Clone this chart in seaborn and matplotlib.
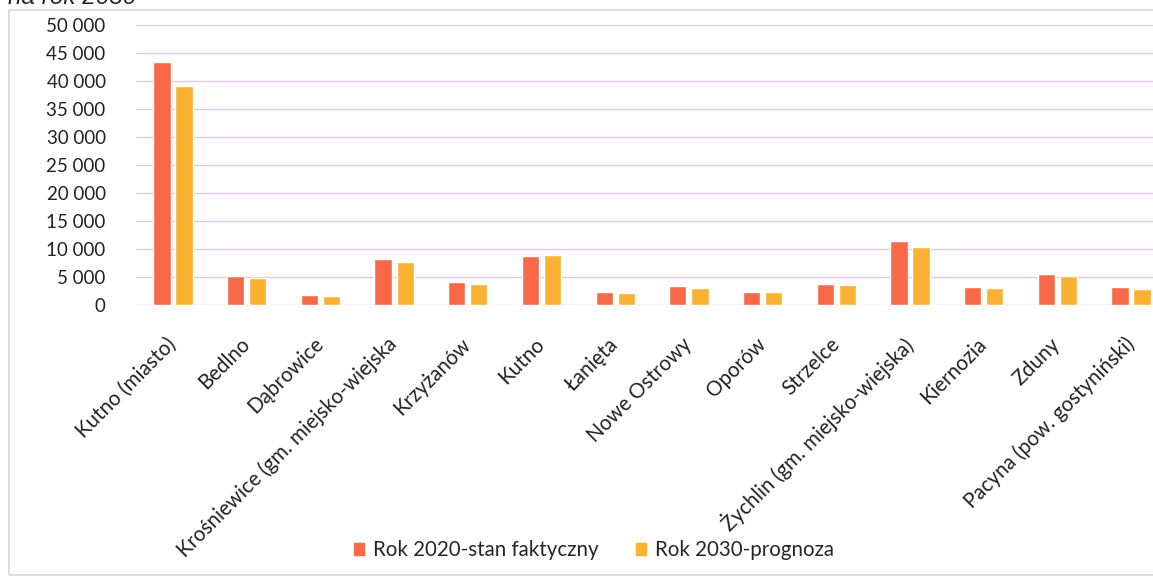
import matplotlib
matplotlib.use("Agg")
import matplotlib.pyplot as plt
import matplotlib.patches as mpatches
import seaborn as sns
import pandas as pd

# Categories (gminy) and population values
gminy = [
    "Kutno (miasto)", "Bedlno", "Dąbrowice", "Krośniewice (gm. miejsko-wiejska",
    "Krzyżanów", "Kutno", "Łanięta", "Nowe Ostrowy", "Oporów", "Strzelce",
    "Żychlin (gm. miejsko-wiejska)", "Kiernozia", "Zduny",
    "Pacyna (pow. gostyniński)",
]
rok_2020 = [43300, 5200, 1800, 8200, 4100, 8700, 2300, 3400, 2400, 3800, 11500, 3200, 5500, 3300]
rok_2030 = [39000, 4900, 1600, 7700, 3800, 8900, 2100, 3000, 2300, 3600, 10400, 3000, 5200, 2900]
series = ["Rok 2020-stan faktyczny", "Rok 2030-prognoza"]
colors = ["#F86A47", "#FBB131"]
yticks = list(range(0, 50001, 5000))

df = pd.DataFrame({
    "gmina": gminy * 2,
    "wartosc": rok_2020 + rok_2030,
    "seria": [series[0]] * len(gminy) + [series[1]] * len(gminy),
})

sns.set_theme(style="white")
plt.rcParams["font.family"] = ["Lato", "DejaVu Sans"]

W, H = 1153, 578
fig = plt.figure(figsize=(W / 100, H / 100), dpi=100)
ax = fig.add_axes([136.2 / W, 1 - 305 / H, 1031.7 / W, (305 - 24.7) / H])

sns.barplot(data=df, x="gmina", y="wartosc", hue="seria", palette=colors,
            width=0.6, gap=0.22, ax=ax, legend=False, saturation=1)

ax.set_xlim(-0.5, len(gminy) - 0.5)
ax.set_ylim(0, 50000)
ax.set_yticks(yticks)
ax.set_yticklabels([f"{v:,}".replace(",", " ") for v in yticks], fontsize=13.5, color="#222222")
ax.yaxis.grid(True, color="#dccbe3", linewidth=1)
ax.set_axisbelow(True)
for s in ax.spines.values():
    s.set_visible(False)
ax.tick_params(axis="y", length=0, pad=22)
ax.tick_params(axis="x", length=0, pad=26)
ax.set_xlabel("")
ax.set_ylabel("")
ax.set_xticks(range(len(gminy)))
ax.set_xticklabels(gminy, rotation=45, ha="right", va="center",
                   rotation_mode="anchor", fontsize=14.8, color="#222222")

# legend at the bottom
handles = [mpatches.Patch(color=c, label=l) for c, l in zip(colors, series)]
fig.legend(handles=handles, loc="center", bbox_to_anchor=(594 / W, 1 - 550 / H),
           ncol=2, frameon=False, fontsize=14.8, handlelength=0.5, handleheight=0.5,
           handletextpad=0.45, columnspacing=1.8)

# chart frame and cut-off title
fig.patches.append(mpatches.Rectangle((9 / W, 3 / H), 1.1, 1 - 13 / H,
                                      transform=fig.transFigure, fill=False,
                                      edgecolor="#d8d8d8", linewidth=1.2))
fig.text(8 / W, 1 - 4 / H, "na rok 2030", fontsize=17.5, style="italic",
         family=["Liberation Sans", "DejaVu Sans"], va="baseline", ha="left")

fig.savefig("out.png", dpi=100)
